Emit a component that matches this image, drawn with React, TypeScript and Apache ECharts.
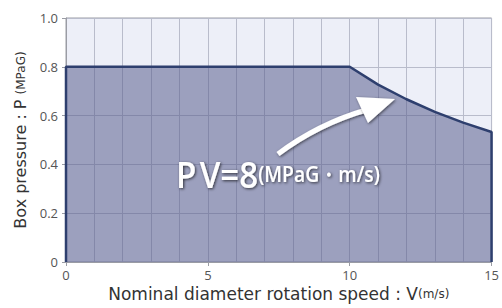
import React, { useEffect, useRef } from "react";
import * as echarts from "echarts";

// Pressure limit vs rotation speed (PV = 8)
const speedV = [0, 0, 10, 11, 12, 13, 14, 15, 15];
const pressureP = [0, 0.8, 0.8, 0.727, 0.667, 0.615, 0.571, 0.533, 0];
const xTicks = [0, 5, 10, 15];
const yTicks = [0, 0.2, 0.4, 0.6, 0.8, 1.0];

export default function App() {
  const ref = useRef<HTMLDivElement>(null);
  useEffect(() => {
    if (!ref.current) return;
    const chart = echarts.init(ref.current, null, { renderer: "svg" });
    const font = "'Open Sans', 'Liberation Sans', sans-serif";
    const nameFont = "'DejaVu Sans', 'Open Sans', sans-serif";
    chart.setOption({
      animation: false,
      backgroundColor: "#ffffff",
      grid: {
        left: 66,
        right: 8,
        top: 18,
        bottom: 46,
        show: true,
        backgroundColor: "#edeff8",
        borderColor: "#9a9ca4",
        borderWidth: 1,
      },
      xAxis: {
        type: "value",
        min: xTicks[0],
        max: xTicks[xTicks.length - 1],
        interval: 5,
        name: "{a|Nominal diameter rotation speed : V}{b|(m/s)}",
        nameLocation: "middle",
        nameGap: 22,
        nameTextStyle: {
          rich: {
            a: { fontSize: 17, color: "#333", fontFamily: nameFont },
            b: { fontSize: 12, color: "#333", fontFamily: nameFont },
          },
        },
        axisLine: { show: true, lineStyle: { color: "#9a9ca4", width: 1 } },
        axisTick: { show: true, length: 4, lineStyle: { color: "#9a9ca4" } },
        axisLabel: { color: "#555", fontSize: 13, fontFamily: font, margin: 6 },
        splitLine: { show: true, lineStyle: { color: "#b9bccb", width: 1 } },
        minorTick: { show: false, splitNumber: 5 },
        minorSplitLine: { show: true, lineStyle: { color: "#b9bccb", width: 1 } },
      },
      yAxis: {
        type: "value",
        min: yTicks[0],
        max: yTicks[yTicks.length - 1],
        interval: 0.2,
        name: "{a|Box pressure : P }{b|(MPaG)}",
        nameLocation: "middle",
        nameGap: 37,
        nameRotate: 90,
        nameTextStyle: {
          rich: {
            a: { fontSize: 16, color: "#333", fontFamily: nameFont },
            b: { fontSize: 12, color: "#333", fontFamily: nameFont },
          },
        },
        axisLine: { show: true, lineStyle: { color: "#9a9ca4", width: 1 } },
        axisTick: { show: true, length: 4, lineStyle: { color: "#9a9ca4" } },
        axisLabel: {
          color: "#555",
          fontSize: 13,
          fontFamily: font,
          margin: 8,
          formatter: (v: number) => (v === 0 ? "0" : v.toFixed(1)),
        },
        splitLine: { show: true, lineStyle: { color: "#b9bccb", width: 1 } },
      },
      series: [
        {
          type: "line",
          data: speedV.map((v, i) => [v, pressureP[i]]),
          showSymbol: false,
          symbol: "none",
          smooth: false,
          lineStyle: { color: "#2e3f6e", width: 2.5 },
          areaStyle: { color: "rgba(88,93,142,0.78)", origin: "start" },
          z: 3,
        },
      ],
      graphic: [
        {
          type: "bezierCurve",
          z: 10,
          shape: { x1: 278, y1: 154, x2: 366, y2: 110, cpx1: 318, cpy1: 124 },
          style: {
            stroke: "#ffffff",
            lineWidth: 5,
            fill: "none",
            shadowBlur: 3,
            shadowColor: "rgba(0,0,0,0.6)",
            shadowOffsetX: 1,
            shadowOffsetY: 1,
          },
        },
        {
          type: "polygon",
          z: 11,
          shape: { points: [[356, 97], [395, 99], [368, 123]] },
          style: {
            fill: "#ffffff",
            shadowBlur: 3,
            shadowColor: "rgba(0,0,0,0.6)",
            shadowOffsetX: 1,
            shadowOffsetY: 1,
          },
        },
        {
          type: "text",
          z: 12,
          x: 176,
          y: 192,
          scaleX: 0.92,
          style: {
            text: "{a|P\u200AV=8}{b|(MPaG・m/s)}",
            verticalAlign: "bottom",
            textShadowBlur: 3,
            textShadowColor: "rgba(0,0,0,0.7)",
            textShadowOffsetX: 1,
            textShadowOffsetY: 1,
            rich: {
              a: { fontSize: 36, fill: "#ffffff", fontFamily: font, fontWeight: 600 },
              b: { fontSize: 21, fill: "#ffffff", fontFamily: font, fontWeight: 600 },
            },
          },
        },
      ],
    });
    return () => chart.dispose();
  }, []);
  return (
    <div
      ref={ref}
      style={{ position: "fixed", left: 0, top: 0, width: 502, height: 308 }}
    />
  );
}
